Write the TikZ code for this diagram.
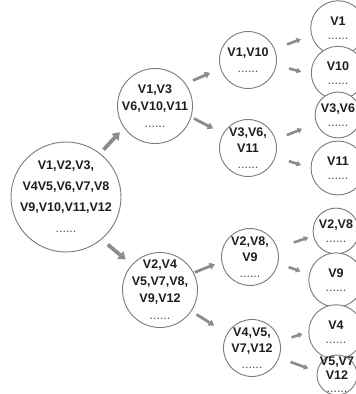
\documentclass[tikz,border=0pt]{standalone}
\usepackage{fontspec}
\setmainfont{Liberation Sans}
\usepackage{xcolor}
\usetikzlibrary{arrows.meta}
\definecolor{setline}{HTML}{7A7A7A}
\definecolor{setarrow}{HTML}{8C8C8C}
\definecolor{settext}{HTML}{1E1E1E}
\newcommand{\subdots}{{\mdseries\color{black!70}......}}

\begin{document}
\begin{tikzpicture}[
    x=1pt,y=-1pt,
    setnode/.style  = {circle, draw=setline, line width=0.9pt, fill=white,
                       align=center, inner sep=-30pt, text=settext},
    setroot/.style  = {setnode, minimum size=110pt,
                       font=\fontsize{12.5}{21}\selectfont\bfseries},
    setmid/.style   = {setnode, minimum size=75pt,
                       font=\fontsize{12.5}{17}\selectfont\bfseries},
    setsub/.style   = {setnode, minimum size=57pt,
                       font=\fontsize{12.5}{16}\selectfont\bfseries},
    setleaf/.style  = {setnode, minimum size=40pt,
                       font=\fontsize{12.5}{13.5}\selectfont\bfseries},
    bigarr/.style   = {draw=setarrow, line width=3.8pt,
                       -{Triangle[length=7pt,width=9.5pt]}},
    midarr/.style   = {draw=setarrow, line width=2.8pt,
                       -{Triangle[length=5.5pt,width=7pt]}},
    smallarr/.style = {draw=setarrow, line width=2.6pt,
                       -{Triangle[length=4.5pt,width=5.5pt]}},
  ]
  \useasboundingbox (0,0) rectangle (356,394);

  % -- Ensemble complet ------------------------------------------------------
  \node[setroot] (root) at (66,197)
       {V1,V2,V3,\\V4V5,V6,V7,V8\\V9,V10,V11,V12\\\subdots};

  % -- Premier niveau --------------------------------------------------------
  \node[setmid] (l1a) at (155,106) {V1,V3\\V6,V10,V11\\\subdots};
  \node[setmid] (l1b) at (160,290) {V2,V4\\V5,V7,V8,\\V9,V12\\\subdots};

  % -- Second niveau ---------------------------------------------------------
  \node[setsub] (l2a) at (248,60)  {V1,V10\\\subdots};
  \node[setsub] (l2b) at (248,148) {V3,V6,\\V11\\\subdots};
  \node[setsub] (l2c) at (250,257) {V2,V8,\\V9\\\subdots};
  \node[setsub] (l2d) at (252,348) {V4,V5,\\V7,V12\\\subdots};

  % -- Feuilles --------------------------------------------------------------
  \node[setleaf] (v1)   at (338,28)  {V1\\\subdots};
  \node[setleaf] (v10)  at (338,73)  {V10\\\subdots};
  \node[setleaf] (v36)  at (338,115) {V3,V6\\\subdots};
  \node[setleaf] (v11)  at (338,168) {V11\\\subdots};
  \node[setleaf] (v28)  at (336,231) {V2,V8\\\subdots};
  \node[setleaf] (v9)   at (336,280) {V9\\\subdots};
  \node[setleaf] (v4)   at (336,332) {V4\\\subdots};
  \node[setleaf] (v57)  at (337,375) {V5,V7\\V12\\\subdots};

  % -- Fleches ---------------------------------------------------------------
  \draw[bigarr, shorten <=5pt, shorten >=6pt] (root.52) -- (l1a.215);
  \draw[bigarr, shorten <=8pt, shorten >=8pt] (root.-50) -- (l1b.138);

  \draw[midarr, shorten <=8pt, shorten >=11pt] (l1a.36) -- (l2a.197);
  \draw[midarr, shorten <=3pt, shorten >=11pt] (l1a.-17) -- (l2b.150);
  \draw[midarr, shorten <=1pt, shorten >=7pt] (l1b.27) -- (l2c.189);
  \draw[midarr, shorten <=6pt, shorten >=15pt] (l1b.-34) -- (l2d.150);

  \draw[smallarr, shorten <=13pt, shorten >=11pt] (l2a.22) -- (v1.195);
  \draw[smallarr, shorten <=13pt, shorten >=10pt] (l2a.-10) -- (v10.183);
  \draw[smallarr, shorten <=12pt, shorten >=15pt] (l2b.17) -- (v36.201);
  \draw[smallarr, shorten <=14pt, shorten >=10pt] (l2b.-18) -- (v11.180);
  \draw[smallarr, shorten <=17pt, shorten >=5pt] (l2c.18) -- (v28.192);
  \draw[smallarr, shorten <=11pt, shorten >=9pt] (l2c.-13) -- (v9.168);
  \draw[smallarr, shorten <=12pt, shorten >=6pt] (l2d.14) -- (v4.180);
  \draw[smallarr, shorten <=12pt, shorten >=9pt] (l2d.-20) -- (v57.170);

\end{tikzpicture}
\end{document}
